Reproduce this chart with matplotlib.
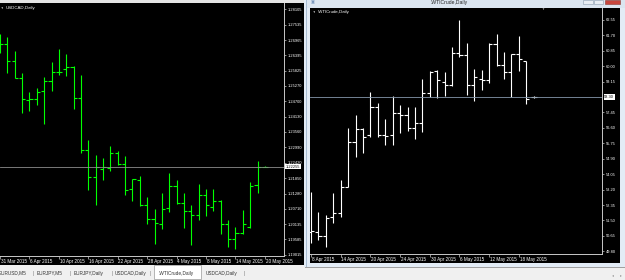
import matplotlib
matplotlib.use("Agg")
from matplotlib import pyplot as plt
from matplotlib.patches import Rectangle
import numpy as np

plt.rcParams['font.family'] = ['Liberation Sans', 'DejaVu Sans']

W, H = 625, 280

# USDCAD,Daily  31 Mar 2015 .. 20 May 2015
usd_open = [1.26900, 1.26820, 1.26179, 1.25560, 1.24745, 1.24771, 1.25068, 1.25438, 1.25783, 1.25883,
            1.25979, 1.24808, 1.22893, 1.21882, 1.22190, 1.22227, 1.22793, 1.22364, 1.21438, 1.21782,
            1.20845, 1.20326, 1.20152, 1.20745, 1.21560, 1.20919, 1.20623, 1.20475, 1.21215, 1.20771,
            1.21015, 1.20152, 1.19586, 1.19808, 1.20030, 1.21586, 1.22275]
usd_high = [1.27200, 1.27090, 1.26549, 1.25757, 1.25042, 1.25190, 1.25586, 1.26142, 1.26634, 1.26460,
            1.26005, 1.25671, 1.23264, 1.22708, 1.22597, 1.23042, 1.22867, 1.22682, 1.21808, 1.21941,
            1.21141, 1.20719, 1.21312, 1.22030, 1.21782, 1.21290, 1.20856, 1.21634, 1.21460, 1.21438,
            1.21041, 1.20301, 1.20052, 1.20671, 1.21708, 1.22475, 1.22312]
usd_low = [1.26500, 1.25757, 1.25560, 1.24275, 1.24349, 1.24549, 1.23856, 1.25068, 1.25683, 1.25634,
           1.24423, 1.22793, 1.21412, 1.20856, 1.21782, 1.22127, 1.22327, 1.21215, 1.21015, 1.20819,
           1.20141, 1.19423, 1.19956, 1.20597, 1.20893, 1.20004, 1.19386, 1.20301, 1.20449, 1.20623,
           1.19782, 1.19289, 1.19215, 1.19782, 1.20004, 1.21290, 1.22253]
usd_close = [1.26820, 1.26201, 1.25560, 1.24794, 1.24771, 1.25042, 1.25438, 1.25783, 1.25783, 1.25979,
             1.24831, 1.22893, 1.21882, 1.22253, 1.22253, 1.22793, 1.22364, 1.21412, 1.21808, 1.20845,
             1.20326, 1.20178, 1.20719, 1.21560, 1.20941, 1.20645, 1.20475, 1.21238, 1.20867, 1.21015,
             1.20152, 1.19586, 1.19808, 1.20152, 1.21560, 1.22275, 1.22275]
usd_bid = 1.22275
usd_bid_label = "1.22255"
usd_yticks = [1.28105, 1.27535, 1.26965, 1.26395, 1.25825, 1.25270, 1.24700, 1.24130, 1.23560,
              1.22990, 1.22420, 1.21850, 1.21280, 1.20710, 1.20135, 1.19585, 1.19015]
usd_dates = ['31 Mar 2015', '6 Apr 2015', '10 Apr 2015', '16 Apr 2015', '22 Apr 2015',
             '28 Apr 2015', '4 May 2015', '8 May 2015', '14 May 2015', '20 May 2015']

# .WTICrude,Daily  8 Apr 2015 .. 20 May 2015
wti_open = [50.86, 50.88, 50.64, 51.70, 51.93, 53.36, 55.84, 56.53, 56.21, 57.77, 56.21, 56.21, 57.41,
            57.31, 56.58, 56.89, 58.54, 59.74, 59.15, 58.97, 60.71, 60.62, 58.97, 59.28, 59.24, 61.23,
            60.07, 59.67, 60.68, 60.31, 58.32]
wti_high = [53.09, 51.98, 51.80, 53.03, 53.73, 56.61, 57.31, 56.58, 58.58, 57.99, 57.09, 58.34, 57.85,
            57.77, 57.74, 59.28, 59.74, 59.79, 59.67, 61.05, 62.55, 61.27, 59.85, 59.78, 61.27, 61.78,
            60.77, 60.68, 61.68, 60.31, 58.38]
wti_low = [50.27, 50.42, 50.02, 51.38, 51.71, 53.33, 55.01, 55.24, 56.10, 56.12, 55.66, 55.66, 56.34,
           56.45, 55.97, 56.39, 58.32, 58.23, 58.38, 58.93, 60.49, 58.42, 58.09, 58.69, 59.06, 60.01,
           59.30, 58.32, 59.76, 57.90, 58.27]
wti_close = [50.94, 50.64, 51.62, 51.93, 53.36, 55.84, 56.53, 56.12, 57.74, 56.21, 56.18, 57.41, 57.31,
             56.58, 56.89, 58.54, 59.70, 59.24, 58.97, 60.71, 60.62, 58.97, 59.39, 59.24, 61.23, 60.07,
             59.67, 60.68, 60.38, 58.20, 58.30]
wti_bid = 58.30
wti_yticks = [62.55, 61.70, 60.85, 60.00, 59.15, 57.45, 56.60, 55.75, 54.90, 54.05, 53.20,
              52.35, 51.50, 50.65, 49.80]
wti_dates = ['8 Apr 2015', '14 Apr 2015', '20 Apr 2015', '24 Apr 2015', '30 Apr 2015',
             '6 May 2015', '12 May 2015', '18 May 2015']

tabs = ['EURUSD,M5', 'EURJPY,M5', 'EURJPY,Daily', 'USDCAD,Daily', '.WTICrude,Daily', 'USDCAD,Daily']
tab_x = [-1, 37, 74, 115, 159, 206]
active_tab = 4

fig = plt.figure(figsize=(6.25, 2.8), dpi=100, facecolor='#f0f0f0')


def box(x0, y0, x1, y1):
    # pixel box (top-left origin) -> figure fraction
    return [x0 / W, 1 - y1 / H, (x1 - x0) / W, (y1 - y0) / H]


def rect(x0, y0, x1, y1, color, edge='none', lw=0.0):
    fig.patches.append(Rectangle((x0 / W, 1 - y1 / H), (x1 - x0) / W, (y1 - y0) / H,
                                 transform=fig.transFigure, facecolor=color,
                                 edgecolor=edge, linewidth=lw, zorder=-1))


def ftext(x, y, s, **kw):
    fig.text(x / W, 1 - y / H, s, **kw)


def ohlc(ax, o, h, l, c, color):
    idx = np.arange(len(o))
    ax.vlines(idx, l, h, color=color, lw=0.8)
    ax.hlines(o, idx - 0.42, idx, color=color, lw=0.8)
    ax.hlines(c, idx, idx + 0.42, color=color, lw=0.8)


def style(ax, yticks, fmt, dates, axcol):
    ax.set_facecolor('black')
    for s in ['top', 'left']:
        ax.spines[s].set_visible(False)
    for s in ['right', 'bottom']:
        ax.spines[s].set_color(axcol)
        ax.spines[s].set_linewidth(0.7)
    ax.yaxis.tick_right()
    ax.set_yticks(yticks)
    ax.set_yticklabels([fmt.format(v) for v in yticks])
    ax.tick_params(axis='y', length=1.5, width=0.5, color=axcol, labelsize=2.9,
                   labelcolor='white', pad=1.2)
    pos = list(range(0, 4 * len(dates), 4))
    ax.set_xticks(pos)
    ax.set_xticklabels([])
    ax.tick_params(axis='x', length=2, width=0.5, color=axcol)
    for p, d in zip(pos, dates):
        ax.text(p + 0.1, -0.012, d, transform=ax.get_xaxis_transform(), ha='left', va='top',
                fontsize=3.3, color='white', clip_on=False)


# window chrome
rect(0, 0, 305, 3, '#e4e4e4')
rect(0, 3, 304, 265, 'black')
rect(304, 0, 310, 267, '#e3ecf6')
rect(306, 0, 307, 267, '#a9bdd3')
rect(307, 0, 625, 8, '#dbe5f0')
rect(310, 8, 620, 263, 'black')
rect(620, 8, 625, 267, '#e3ecf6')
rect(307, 263, 625, 267, '#e3ecf6')
rect(305, 267, 625, 268, '#a0a0a0')
rect(583, 0, 593, 4, '#e8edf3', '#8a9aae', 0.4)
rect(594, 0, 603, 4, '#e8edf3', '#8a9aae', 0.4)
rect(605, 0, 620, 4, '#c9463d', '#8a3a34', 0.4)
ftext(449, 2.5, '.WTICrude,Daily', fontsize=3.6, color='#222222', ha='center', va='center')
ftext(313, 2.5, '\u25a3', fontsize=3, color='#6f8fb8', ha='center', va='center')

# left chart: USDCAD
ax1 = fig.add_axes(box(0, 3, 284, 256))
ohlc(ax1, usd_open, usd_high, usd_low, usd_close, '#00ff00')
ax1.axhline(usd_bid, color='#8c8c8c', lw=0.6)
ax1.set_xlim(0.23, 38.6)
ax1.set_ylim(1.18967, 1.28338)
style(ax1, usd_yticks, '{:.5f}', usd_dates, '#c8c8c8')
ax1.text(1.006, usd_bid, usd_bid_label, transform=ax1.get_yaxis_transform(), ha='left', va='center',
         fontsize=2.9, color='black', clip_on=False,
         bbox=dict(boxstyle='square,pad=0.15', facecolor='white', edgecolor='none'))
ftext(2, 8.3, '\u25bc', fontsize=1.8, color='white', ha='center', va='center')
ftext(5.5, 8.3, 'USDCAD,Daily', fontsize=3.2, color='white', va='center')

# right chart: WTI crude
ax2 = fig.add_axes(box(310, 8, 602, 254))
ohlc(ax2, wti_open, wti_high, wti_low, wti_close, 'white')
ax2.axhline(wti_bid, color='#8597ab', lw=0.6)
ax2.set_xlim(-0.135, 39.2)
ax2.set_ylim(49.65, 63.21)
style(ax2, wti_yticks, '{:.2f}', wti_dates, '#c8c8c8')
ax2.text(1.008, wti_bid, '{:.2f}'.format(wti_bid), transform=ax2.get_yaxis_transform(), ha='left',
         va='center', fontsize=2.9, color='black', clip_on=False,
         bbox=dict(boxstyle='square,pad=0.15', facecolor='white', edgecolor='none'))
ftext(314, 11.5, '\u25bc', fontsize=1.8, color='white', ha='center', va='center')
ftext(318, 11.5, '.WTICrude,Daily', fontsize=3.2, color='white', va='center')
ftext(543, 8.5, '\u25bc', fontsize=2.2, color='#b0b0b0', ha='center', va='center')

# tab bar
rect(0, 265, 304, 280, '#f0f0f0')
rect(154, 264.5, 201, 279, 'white', '#9a9a9a', 0.5)
for i, (t, x) in enumerate(zip(tabs, tab_x)):
    ftext(x, 273, t, fontsize=3.4, color='#333333', va='center')
for sx in [33, 70, 112, 150, 244]:
    ftext(sx, 273, '|', fontsize=3.4, color='#777777', va='center')
ftext(612.5, 275.5, '\u25c2', fontsize=2.8, color='#999999', ha='center', va='center')
ftext(620.5, 275.5, '\u25b8', fontsize=2.8, color='#999999', ha='center', va='center')

plt.savefig('out.png', dpi=100, facecolor=fig.get_facecolor())
